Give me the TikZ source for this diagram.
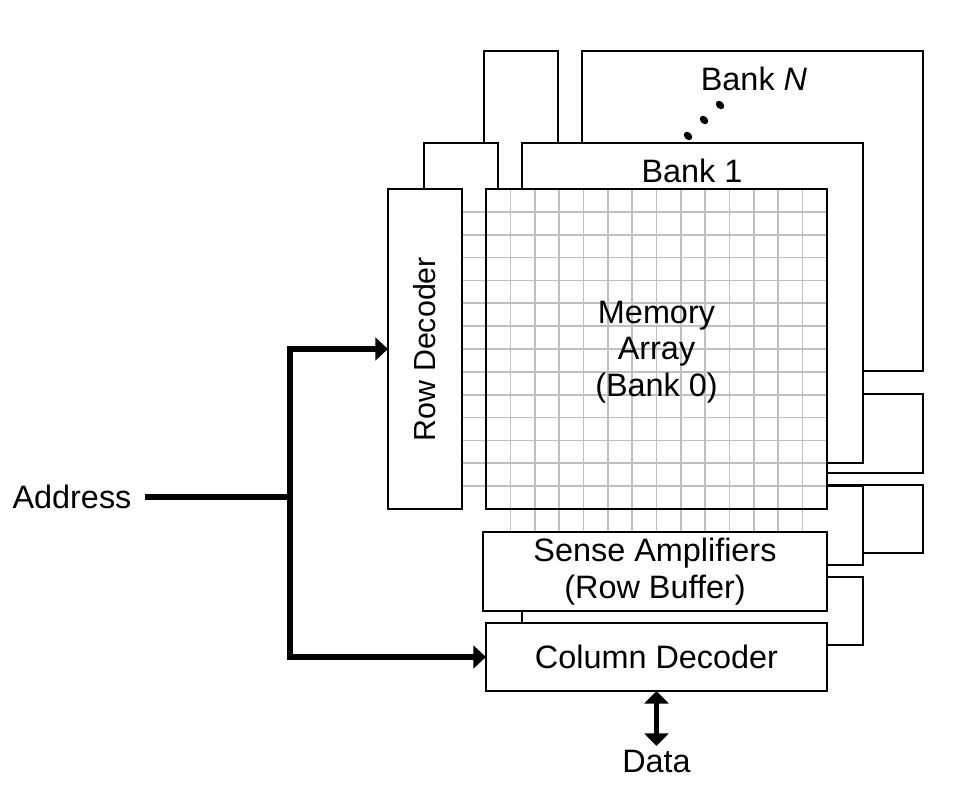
\documentclass[tikz,border=0pt]{standalone}
\usepackage{fontspec}
\setmainfont{Liberation Sans}
\usetikzlibrary{arrows.meta}

\begin{document}
\begin{tikzpicture}[x=0.75pt,y=-0.75pt,
  every node/.style={font=\fontsize{24.3}{27.4}\selectfont},
  wh/.style 2 args={minimum width=#1*0.75pt,minimum height=#2*0.75pt}]

\tikzstyle{block} = [draw=black,fill=white,line width=1.5pt,inner sep=0pt,outer sep=0pt]
\tikzstyle{gridline} = [draw=black!25,line width=1.2pt]
\tikzstyle{bus} = [line width=3.8pt]
\tikzstyle{arrowbus} = [-{Triangle[length=9.5pt,width=17pt]}]

\useasboundingbox (0,0) rectangle (958,787);

% bank N
\node[block,wh={74}{320}] (decN) at (521,211) {};
\node[block,wh={341}{320}] (arrN) at (752.5,211) {};
\node[block,wh={344}{79}] (senseN) at (751,433.5) {};
\node[block,wh={341}{68}] (coldecN) at (752.5,519) {};

% bank 1
\node[block,wh={74}{320}] (dec1) at (461,303) {};
\node[block,wh={341}{320}] (arr1) at (692.5,303) {};
\node[block,wh={344}{79}] (sense1) at (691,525.5) {};
\node[block,wh={341}{68}] (coldec1) at (692.5,611) {};

% bank 0
\node[block,wh={341}{320}] (arr0) at (656.5,349) {};
\fill[white] (486,509) rectangle (827,532);
\foreach \i in {1,...,13} {
  \draw[gridline] ({486+\i*341/14},189) -- ({486+\i*341/14},532);
  \draw[gridline] (462,{189+\i*320/14}) -- (827,{189+\i*320/14});
}
\draw[line width=1.5pt] (arr0.north west) rectangle (arr0.south east);
\node[block,wh={74}{320},font=\fontsize{22.8}{26}\selectfont] (dec0) at (425,349) {\rotatebox{90}{Row Decoder}};
\node[block,wh={344}{79},align=center,font=\fontsize{24.3}{28.2}\selectfont] (sense0) at (655,571.5) {\raisebox{-2.5pt}{Sense Amplifiers}\\\raisebox{-2pt}{(Row Buffer)}};
\node[block,wh={341}{68}] (coldec0) at (656.5,657) {Column Decoder};
\node[align=center] (arr0txt) at (656.5,352) {Memory\\Array\\(Bank 0)};

% labels of the back banks
\node (lbl1) at (692,171) {Bank 1};
\node (lblN) at (754,79) {Bank \textit{N}};
\fill[rotate around={-45:(688,136)}] (688,136) ellipse [x radius=3.6pt,y radius=2.7pt];
\fill[rotate around={-45:(704,120)}] (704,120) ellipse [x radius=3.6pt,y radius=2.7pt];
\fill[rotate around={-45:(720,105)}] (720,105) ellipse [x radius=3.6pt,y radius=2.7pt];

% address and data
\node (addr) at (72,497) {Address};
\coordinate (jn) at (290,497);
\draw[bus,shorten <=6.5pt] (addr.east) -- (jn);
\draw[bus,arrowbus] (jn) |- (dec0.west);
\draw[bus,arrowbus] (jn) |- (coldec0.west);

\node (data) at (656.5,762) {Data};
\draw[bus,{Triangle[length=9.5pt,width=18pt]}-{Triangle[length=9.5pt,width=18pt]}] (coldec0.south) -- (data.north);

\end{tikzpicture}
\end{document}
